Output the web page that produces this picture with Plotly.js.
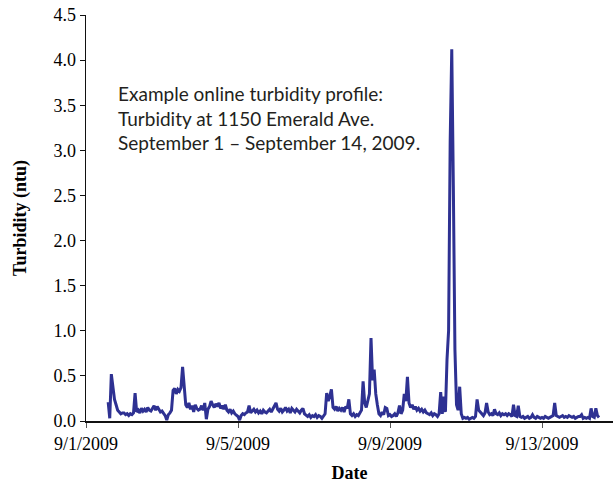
<!DOCTYPE html>
<html>
<head>
<meta charset="utf-8">
<script src="https://cdn.plot.ly/plotly-3.0.1.min.js"></script>
<style>
html,body{margin:0;padding:0;background:#fff;}
#chart{width:613px;height:486px;}
</style>
</head>
<body>
<div id="chart"></div>
<script>
// Hourly turbidity readings (ntu), one array per day
const startTime = '2009-09-01T14:00:00';
const sep01 = [0.21,0.03,0.52,0.38,0.24,0.18,0.12,0.10,0.08,0.09];
const sep02 = [0.09,0.07,0.08,0.06,0.08,0.07,0.09,0.31,0.10,0.12,0.09,0.14,0.11,0.13,0.10,0.15,0.12,0.11,0.14,0.17,0.12,0.16,0.13,0.10];
const sep03 = [0.11,0.08,0.06,0.01,0.07,0.09,0.12,0.34,0.36,0.30,0.35,0.33,0.37,0.60,0.34,0.18,0.15,0.20,0.13,0.17,0.10,0.18,0.14,0.12];
const sep04 = [0.13,0.17,0.12,0.20,0.02,0.13,0.16,0.22,0.18,0.15,0.19,0.16,0.20,0.14,0.17,0.13,0.18,0.12,0.10,0.13,0.09,0.11,0.08,0.06];
const sep05 = [0.05,0.01,0.06,0.08,0.07,0.09,0.10,0.17,0.09,0.11,0.13,0.10,0.12,0.09,0.11,0.08,0.12,0.10,0.09,0.11,0.13,0.10,0.14,0.16];
const sep06 = [0.20,0.13,0.11,0.14,0.10,0.12,0.15,0.11,0.13,0.09,0.14,0.12,0.10,0.13,0.11,0.09,0.12,0.14,0.08,0.06,0.05,0.07,0.04,0.06];
const sep07 = [0.05,0.07,0.04,0.06,0.05,0.03,0.06,0.08,0.31,0.22,0.28,0.35,0.15,0.13,0.16,0.11,0.14,0.12,0.15,0.10,0.16,0.14,0.24,0.08];
const sep08 = [0.06,0.08,0.05,0.07,0.06,0.09,0.12,0.44,0.20,0.15,0.22,0.30,0.92,0.45,0.57,0.30,0.18,0.08,0.06,0.10,0.07,0.15,0.14,0.06];
const sep09 = [0.07,0.05,0.06,0.08,0.05,0.09,0.17,0.08,0.12,0.30,0.22,0.49,0.20,0.15,0.18,0.13,0.16,0.12,0.14,0.11,0.13,0.10,0.12,0.09];
const sep10 = [0.08,0.07,0.09,0.06,0.08,0.07,0.05,0.08,0.32,0.08,0.27,0.10,0.68,1.00,3.10,4.12,2.60,0.79,0.18,0.12,0.38,0.08,0.03,0.04];
const sep11 = [0.03,0.04,0.02,0.03,0.04,0.03,0.05,0.24,0.12,0.10,0.08,0.06,0.09,0.20,0.10,0.07,0.08,0.06,0.13,0.08,0.07,0.09,0.06,0.08];
const sep12 = [0.07,0.08,0.06,0.08,0.07,0.05,0.18,0.06,0.05,0.17,0.05,0.04,0.05,0.03,0.04,0.05,0.03,0.04,0.07,0.04,0.03,0.05,0.04,0.03];
const sep13 = [0.04,0.03,0.05,0.04,0.03,0.04,0.05,0.06,0.20,0.06,0.05,0.04,0.05,0.06,0.04,0.05,0.04,0.06,0.05,0.04,0.05,0.03,0.04,0.05];
const sep14 = [0.05,0.07,0.03,0.04,0.03,0.04,0.03,0.14,0.05,0.04,0.14,0.06,0.04];

const tickVals = ['2009-09-01','2009-09-05','2009-09-09','2009-09-13'];
const tickLabels = ['9/1/2009','9/5/2009','9/9/2009','9/13/2009'];
const yTicks = [0,0.5,1,1.5,2,2.5,3,3.5,4,4.5];
const yTickLabels = ['0.0','0.5','1.0','1.5','2.0','2.5','3.0','3.5','4.0','4.5'];
const noteLines = ['Example online turbidity profile:','Turbidity at 1150 Emerald Ave.','September 1 \u2013 September 14, 2009.'];

const turbidity = [].concat(sep01,sep02,sep03,sep04,sep05,sep06,sep07,sep08,sep09,sep10,sep11,sep12,sep13,sep14);
const t0 = new Date(startTime + 'Z').getTime();
const times = turbidity.map((_, i) => {
  const d = new Date(t0 + i * 3600000);
  return d.toISOString().slice(0,19).replace('T',' ');
});

const serif = 'Liberation Serif';
const trace = {
  x: times, y: turbidity, type: 'scatter', mode: 'lines',
  line: {color: '#2e3192', width: 3},
  hoverinfo: 'skip'
};

const tf = {family: serif, size: 18, color: '#000'};
const layout = {
  width: 613, height: 486,
  margin: {l: 86, r: 0, t: 15, b: 65},
  paper_bgcolor: '#fff', plot_bgcolor: '#fff',
  showlegend: false,
  font: {family: serif, size: 18, color: '#000'},
  xaxis: {
    type: 'date',
    range: ['2009-09-01 00:00', '2009-09-14 20:50'],
    tickvals: tickVals, ticktext: tickLabels,
    showgrid: false, zeroline: false,
    showline: true, linecolor: '#111', linewidth: 2,
    ticks: 'outside', ticklen: 5, tickcolor: '#555', tickwidth: 1,
    tickfont: tf,
    title: {text: '<b>Date</b>', font: {family: serif, size: 18, color: '#000'}, standoff: 14}
  },
  yaxis: {
    range: [0, 4.5],
    tickvals: yTicks, ticktext: yTickLabels,
    showgrid: false, zeroline: false,
    showline: true, linecolor: '#111', linewidth: 1.5,
    ticks: 'outside', ticklen: 5, tickcolor: '#111', tickwidth: 1,
    tickfont: tf,
    title: {text: '<b>Turbidity (ntu)</b>', font: {family: serif, size: 18, color: '#000'}, standoff: 22}
  },
  annotations: [{
    xref: 'paper', yref: 'paper', x: 0.057, y: 0.84,
    xanchor: 'left', yanchor: 'top', align: 'left', showarrow: false,
    text: noteLines.join('<br>'),
    font: {family: 'Lato', size: 19, color: '#231f20'}
  }]
};

Plotly.newPlot('chart', [trace], layout, {displayModeBar: false, staticPlot: true});
</script>
</body>
</html>
